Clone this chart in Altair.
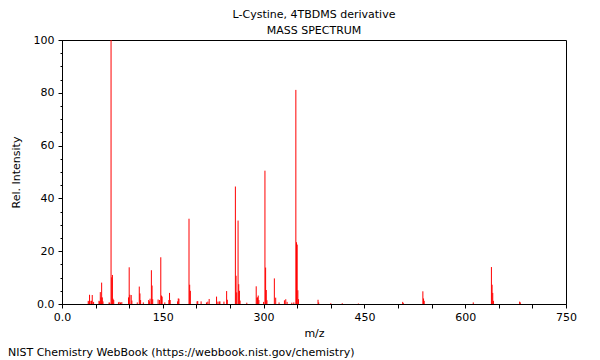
import altair as alt
import pandas as pd

# ---- data ----
mz = [39, 40, 41, 43, 44, 45, 47,
      55, 56, 57, 58, 59, 60, 61,
      70, 71, 73, 74, 75, 76, 77,
      84, 85, 87, 89,
      99, 100, 101, 103, 104,
      112, 115, 116, 117,
      121, 129, 130, 131, 133, 134, 135,
      143, 145, 147, 148, 149,
      153, 159, 160, 161,
      172, 173, 174,
      189, 190, 191,
      201, 202, 207, 215, 217, 219,
      230, 232, 234, 235, 241, 245, 246,
      258, 259, 260, 262, 263, 264, 265,
      275, 289, 290, 291, 292, 293,
      300, 302, 303, 304, 305,
      316, 318, 323, 331, 333, 335, 342, 345,
      348, 349, 350, 351, 352,
      381, 382, 400, 417, 441,
      507, 508, 537, 538, 539,
      612, 639, 640, 641, 642, 681, 682]
intensity = [1.2, 1.0, 3.5, 1.2, 1.2, 3.4, 0.8,
             1.2, 1.0, 4.5, 2.5, 8.1, 2.5, 1.0,
             0.6, 0.5, 100.0, 10.1, 11.0, 2.0, 1.5,
             0.6, 0.8, 0.6, 0.7,
             2.5, 13.9, 3.5, 3.4, 1.3,
             0.6, 6.6, 4.0, 1.5,
             0.6, 1.5, 1.0, 2.0, 12.8, 7.0, 1.8,
             1.7, 1.5, 17.7, 3.2, 2.8,
             0.6, 1.5, 4.2, 1.5,
             1.0, 2.1, 2.0,
             32.3, 7.3, 5.0,
             1.0, 1.1, 1.0, 0.6, 0.9, 1.9,
             2.8, 0.9, 0.9, 1.0, 0.9, 4.9, 1.6,
             44.5, 10.7, 4.4, 31.6, 7.5, 5.0, 1.3,
             0.5, 6.7, 2.4, 2.5, 3.2, 1.5,
             0.8, 50.5, 13.8, 5.3, 1.4,
             9.7, 2.4, 0.6, 1.4, 1.8, 0.8, 0.5, 0.6,
             81.1, 23.4, 22.5, 5.2, 1.8,
             1.6, 0.6, 0.3, 0.3, 0.2,
             0.8, 0.3, 4.8, 2.1, 1.2,
             0.6, 14.0, 7.3, 4.2, 1.2, 0.9, 0.6]

title_lines = ["L-Cystine, 4TBDMS derivative", "MASS SPECTRUM"]
footer_text = "NIST Chemistry WebBook (https://webbook.nist.gov/chemistry)"
x_tick_values = list(range(0, 751, 50))
y_major_ticks = [0, 20, 40, 60, 80, 100]
y_minor_ticks = list(range(0, 101, 5))

df = pd.DataFrame({"mz": mz, "intensity": intensity})

FONT = "DejaVu Sans"
INK = "#000000"
W, H = 504, 264

x_scale = alt.Scale(domain=[0, 750], nice=False, zero=False)
y_scale = alt.Scale(domain=[0, 100], nice=False)

x_axis = alt.Axis(
    values=x_tick_values,
    labelExpr="datum.value == 0 ? '0.0' : (datum.value % 150 == 0 ? datum.label : '')",
    labelFlush=False, labelOverlap=False, tickSize=4, labelPadding=3,
    grid=False, title="m/z", titleX=W / 2, titleY=29,
    titleBaseline="middle", titleFontWeight="normal",
)
y_axis_major = alt.Axis(
    values=y_major_ticks, orient="left",
    labelExpr="datum.value == 0 ? '0.0' : datum.label",
    labelFlush=False, labelOverlap=False, tickSize=4, labelPadding=4,
    grid=False, title="Rel. Intensity", titleX=-46, titleY=H / 2,
    titleAngle=270, titleBaseline="middle", titleAlign="center",
    titleFontWeight="normal",
)
y_axis_minor = alt.Axis(
    values=y_minor_ticks, orient="left", labels=False, domain=False,
    tickSize=2, grid=False, title=None,
)

bars = alt.Chart(df).mark_rule(color="#ff0000", strokeWidth=1).encode(
    x=alt.X("mz:Q", scale=x_scale, axis=x_axis),
    y=alt.Y("intensity:Q", scale=y_scale, axis=y_axis_major),
    y2=alt.datum(0),
)

minor = alt.Chart(df).mark_point(opacity=0).encode(
    x=alt.X("mz:Q", scale=x_scale, axis=x_axis),
    y=alt.Y("intensity:Q", scale=y_scale, axis=y_axis_minor),
)

t1 = alt.Chart(pd.DataFrame({"t": [title_lines[0]]})).mark_text(
    font=FONT, fontSize=11, color=INK, align="center", baseline="middle"
).encode(x=alt.value(W / 2), y=alt.value(-25), text="t:N")

t2 = alt.Chart(pd.DataFrame({"t": [title_lines[1]]})).mark_text(
    font=FONT, fontSize=11, color=INK, align="center", baseline="middle"
).encode(x=alt.value(W / 2), y=alt.value(-9), text="t:N")

foot = alt.Chart(pd.DataFrame({"t": [footer_text]})).mark_text(
    font=FONT, fontSize=11, color=INK, align="left", baseline="middle"
).encode(x=alt.value(-54), y=alt.value(313), text="t:N")

chart = alt.layer(bars, minor, t1, t2, foot).resolve_axis(
    y="independent"
).properties(
    width=W, height=H,
    autosize=alt.AutoSizeParams(type="none"),
    padding={"left": 54, "top": 32, "right": 26, "bottom": 56},
).configure_view(
    stroke=INK, strokeWidth=1
).configure_axis(
    labelFont=FONT, titleFont=FONT, labelFontSize=11, titleFontSize=11,
    labelColor=INK, titleColor=INK, domainColor=INK, tickColor=INK,
)

chart.save("out.html", embed_options={"renderer": "svg", "actions": False})
